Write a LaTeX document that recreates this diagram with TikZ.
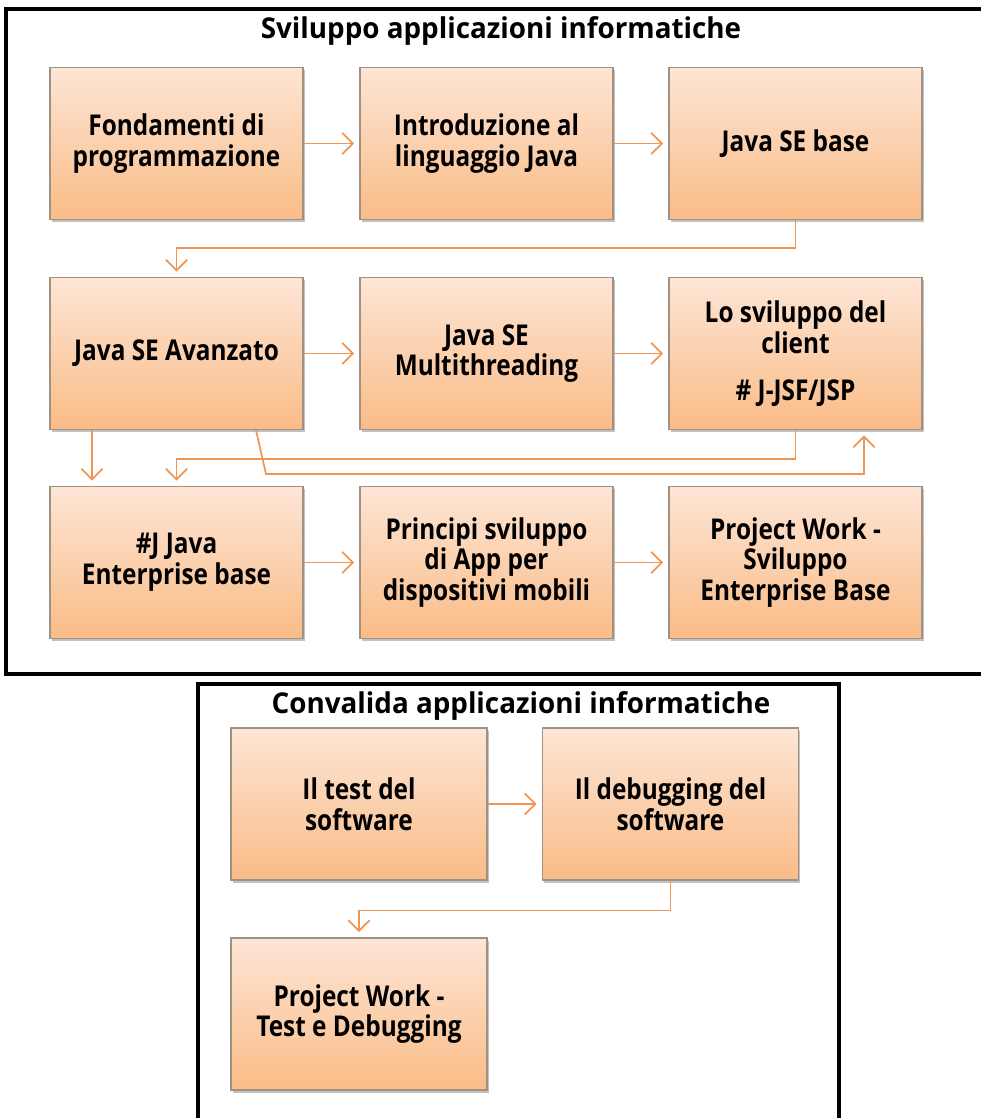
\documentclass[tikz,border=0pt]{standalone}
\usepackage{fontspec}
\setmainfont{Open Sans}[FakeStretch=0.85]
\newfontfamily\titolofont{Open Sans}[FakeStretch=0.97]
\usepackage{tikz}
\usetikzlibrary{arrows.meta, shadows}

\definecolor{arancio}{RGB}{240,150,85}
\definecolor{pescachiaro}{RGB}{253,229,213}
\definecolor{pescascuro}{RGB}{250,188,135}
\definecolor{bordobox}{RGB}{160,145,130}

\tikzset{
    modulo/.style={draw=bordobox, line width=0.8pt, top color=pescachiaro, bottom color=pescascuro,
        minimum width=189.75pt, minimum height=114pt, inner sep=0pt, align=center,
        font=\bfseries\fontsize{21.5pt}{23pt}\selectfont,
        drop shadow={shadow xshift=1.2pt, shadow yshift=-2pt, opacity=0.35, fill=black!70}},
    freccia/.style={draw=arancio, line width=1.3pt, shorten >=4pt,
        -{Straight Barb[length=8pt, width=16pt, line width=1.3pt]}},
    cornice/.style={draw=black, line width=2.6pt},
    titolo/.style={font=\titolofont\bfseries\fontsize{21.5pt}{23pt}\selectfont, inner sep=0pt}
}

\begin{document}
\begin{tikzpicture}[x=0.75pt, y=-0.75pt]
            \useasboundingbox (0,0) rectangle (981,1118);

            \draw[cornice] (6,9) rectangle (995,674);
            \node[titolo] (tit1) at (501,31) {Sviluppo applicazioni informatiche};

            \node[modulo] (fond) at (176.5,143.5) {Fondamenti di\\programmazione};
            \node[modulo] (intro) at (486.5,143.5) {Introduzione al\\linguaggio Java};
            \node[modulo] (jbase) at (795.5,143.5) {Java SE base};

            \node[modulo] (avanz) at (176.5,353.5) {Java SE Avanzato};
            \node[modulo] (multi) at (486.5,353.5) {Java SE\\Multithreading};
            \node[modulo] (client) at (795.5,353.5) {Lo sviluppo del\\client\\[12pt]\# J-JSF/JSP};

            \node[modulo] (jee) at (176.5,562.5) {\#J Java\\Enterprise base};
            \node[modulo] (mobili) at (486.5,562.5) {Principi sviluppo\\di App per\\dispositivi mobili};
            \node[modulo] (pwork) at (795.5,562.5) {Project Work -\\Sviluppo\\Enterprise Base};

            \draw[freccia] (fond) -- (intro);
            \draw[freccia] (intro) -- (jbase);
            \draw[freccia] (jbase.south) -- ++(0,28) -| (avanz.north);
            \draw[freccia] (avanz) -- (multi);
            \draw[freccia] (multi) -- (client);
            \draw[freccia] (avanz.south -| 92,0) -- (jee.north -| 92,0);
            \draw[freccia] (client.south) -- ++(0,29) -| (jee.north);
            \draw[freccia] (avanz.south -| 256,0) -- (266,474) -| (client.south -| 864,0);
            \draw[freccia] (jee) -- (mobili);
            \draw[freccia] (mobili) -- (pwork);

            \begin{scope}
                \draw[cornice] (198,684) rectangle (839,1140);
                \node[titolo] (tit2) at (521,706) {Convalida applicazioni informatiche};

                \node[modulo, minimum width=192pt] (test) at (359,804) {Il test del\\software};
                \node[modulo, minimum width=192pt] (debug) at (670.5,804) {Il debugging del\\software};
                \node[modulo, minimum width=192pt] (pwtest) at (359,1014) {Project Work -\\Test e Debugging};

                \draw[freccia] (test) -- (debug);
                \draw[freccia] (debug.south) -- ++(0,30) -| (pwtest.north);
            \end{scope}
        \end{tikzpicture}
\end{document}
